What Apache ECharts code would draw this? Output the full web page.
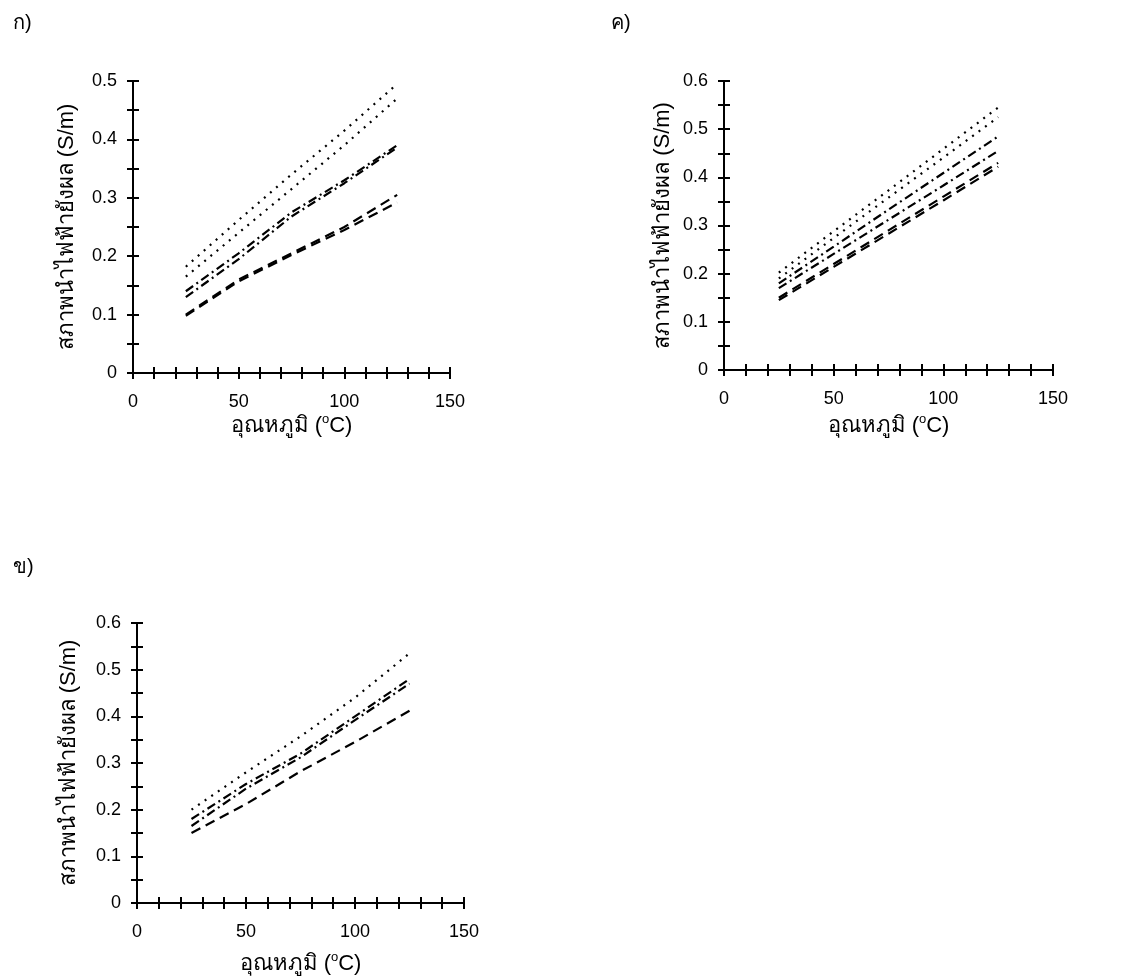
<!DOCTYPE html>
<html><head><meta charset="utf-8">
<script src="https://cdn.jsdelivr.net/npm/echarts@6/dist/echarts.min.js"></script>
<style>html,body{margin:0;padding:0;background:#fff}#c{width:1137px;height:980px}</style>
</head><body><div id="c"></div>
<script>
// Temperature points (°C)
const temps = [25, 50, 75, 100, 125];
// Panel ก) conductivity (S/m)
const kA1 = [0.182, 0.262, 0.340, 0.415, 0.495];
const kA2 = [0.165, 0.240, 0.315, 0.390, 0.470];
const kA3 = [0.140, 0.205, 0.275, 0.330, 0.390];
const kA4 = [0.130, 0.195, 0.268, 0.325, 0.386];
const kA5 = [0.100, 0.160, 0.205, 0.250, 0.305];
const kA6 = [0.098, 0.157, 0.202, 0.245, 0.292];
// Panel ค)
const kC1 = [0.202, 0.288, 0.373, 0.459, 0.545];
const kC2 = [0.190, 0.274, 0.358, 0.441, 0.525];
const kC3 = [0.180, 0.256, 0.333, 0.409, 0.485];
const kC4 = [0.170, 0.241, 0.312, 0.383, 0.455];
const kC5 = [0.150, 0.220, 0.290, 0.360, 0.430];
const kC6 = [0.145, 0.214, 0.283, 0.352, 0.422];
// Panel ข)
const kB1 = [0.200, 0.280, 0.357, 0.440, 0.535];
const kB2 = [0.180, 0.255, 0.320, 0.400, 0.480];
const kB3 = [0.165, 0.245, 0.312, 0.392, 0.470];
const kB4 = [0.150, 0.212, 0.282, 0.345, 0.412];

const panelTitles = ['ก)', 'ค)', 'ข)'];
const yName = 'สภาพนำไฟฟ้ายังผล (S/m)';

const FONT = 'Liberation Sans, Arial, sans-serif';
const DOT = [2, 6], DASHDOT = [9, 4, 2, 4], DASH = [10, 6];

const grids = [
  {left:133, top:81, width:317, height:292, ymax:0.5, yGap:55, xGap:40},
  {left:724, top:81, width:329, height:289, ymax:0.6, yGap:50, xGap:43},
  {left:137, top:623, width:327, height:280, ymax:0.6, yGap:57, xGap:48}
];
const panelSeries = [
  [[kA1,DOT],[kA2,DOT],[kA3,DASHDOT],[kA4,DASHDOT],[kA5,DASH],[kA6,DASH]],
  [[kC1,DOT],[kC2,DOT],[kC3,DASHDOT],[kC4,DASHDOT],[kC5,DASH],[kC6,DASH]],
  [[kB1,DOT],[kB2,DASHDOT],[kB3,DASHDOT],[kB4,DASH]]
];

const xAxes = [], yAxes = [], series = [];
grids.forEach((g, i) => {
  const line = {show:true, lineStyle:{color:'#000', width:2}};
  xAxes.push({
    type:'value', gridIndex:i, min:0, max:150, interval:10,
    axisLine:line, splitLine:{show:false},
    axisTick:{show:true, inside:false, length:6, lineStyle:{color:'#000', width:2}},
    axisLabel:{color:'#000', fontFamily:FONT, fontSize:18, margin:20,
      formatter:v => (v % 50 === 0 ? String(v) : '')},
    name:'{t|อุณหภูมิ (}{s|o}{t|C)}', nameLocation:'middle', nameGap:g.xGap,
    nameTextStyle:{rich:{t:{fontSize:22, color:'#000', fontFamily:FONT},
      s:{fontSize:13, color:'#000', fontFamily:FONT, verticalAlign:'top', padding:[0,0,12,0]}}}
  });
  xAxes.push({
    type:'value', gridIndex:i, min:0, max:150, interval:10, position:'bottom',
    axisLine:{show:false}, splitLine:{show:false}, axisLabel:{show:false},
    axisTick:{show:true, inside:true, length:6, lineStyle:{color:'#000', width:2}}
  });
  yAxes.push({
    type:'value', gridIndex:i, min:0, max:g.ymax, interval:0.05,
    axisLine:line, splitLine:{show:false},
    axisTick:{show:true, inside:false, length:6, lineStyle:{color:'#000', width:2}},
    axisLabel:{color:'#000', fontFamily:FONT, fontSize:18, margin:16,
      formatter:v => {const r = Math.round(v*10); return Math.abs(v*10 - r) < 1e-6 ? (r === 0 ? '0' : (r/10).toFixed(1)) : '';}},
    name:yName, nameLocation:'middle', nameGap:g.yGap, nameRotate:90,
    nameTextStyle:{fontSize:22, color:'#000', fontFamily:FONT}
  });
  yAxes.push({
    type:'value', gridIndex:i, min:0, max:g.ymax, interval:0.05, position:'left',
    axisLine:{show:false}, splitLine:{show:false}, axisLabel:{show:false},
    axisTick:{show:true, inside:true, length:6, lineStyle:{color:'#000', width:2}}
  });
  panelSeries[i].forEach(([vals, dash]) => {
    series.push({
      type:'line', xAxisIndex:2*i, yAxisIndex:2*i, symbol:'none', silent:true,
      data: temps.map((t, k) => [t, vals[k]]),
      lineStyle:{color:'#000', width:2.2, type:dash}
    });
  });
});

const chart = echarts.init(document.getElementById('c'), null, {renderer:'canvas'});
const tStyle = {fontSize:20, fontWeight:'normal', color:'#000', fontFamily:FONT};
chart.setOption({
  backgroundColor:'#fff', animation:false,
  title:[
    {text:panelTitles[0], left:8, top:8, textStyle:tStyle},
    {text:panelTitles[1], left:606, top:8, textStyle:tStyle},
    {text:panelTitles[2], left:8, top:552, textStyle:tStyle}
  ],
  grid: grids.map(g => ({left:g.left, top:g.top, width:g.width, height:g.height, containLabel:false})),
  xAxis:xAxes, yAxis:yAxes, series:series
});
</script></body></html>
